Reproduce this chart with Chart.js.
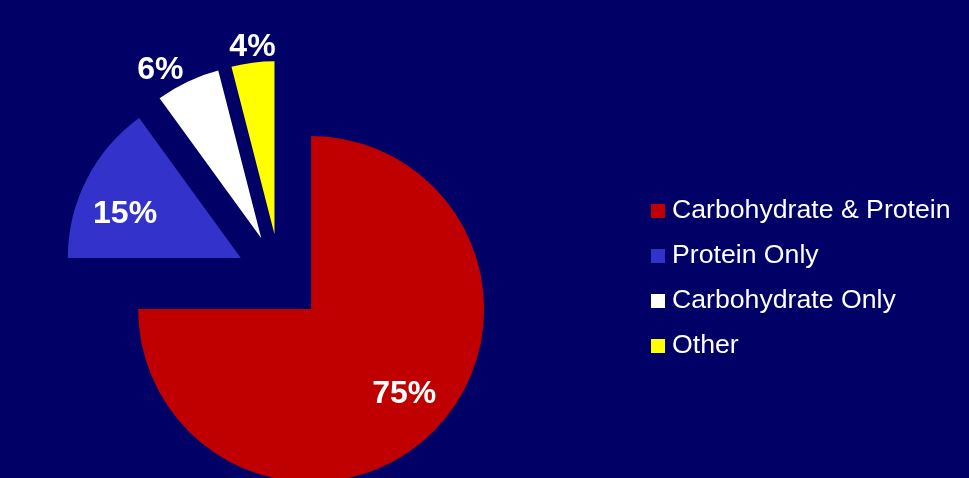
<!DOCTYPE html>
<html><head><meta charset="utf-8">
<script src="https://cdn.jsdelivr.net/npm/chart.js@4/dist/chart.umd.min.js"></script>
<style>html,body{margin:0;padding:0;background:#000066;overflow:hidden}
#wrap{position:relative;width:969px;height:478px;background:#000066;overflow:hidden}
#c{position:absolute;top:0;left:-100px}</style></head>
<body><div id="wrap"><canvas id="c" width="1069" height="478"></canvas></div>
<script>
const categories = ['Carbohydrate & Protein', 'Protein Only', 'Carbohydrate Only', 'Other'];
const values = [75, 15, 6, 4];
const valueLabels = ['75%', '15%', '6%', '4%'];
const colors = ['#C00000', '#3333CC', '#FFFFFF', '#FFFF00'];

// styling / layout (canvas extends 100px past the left edge of the page)
const shiftX = 100;
const explode = 44;
const pieRadius = 173;
const pieCenter = { x: 280 + shiftX, y: 278 };
const legendTextLeft = 672 + shiftX;
const legendFont = 26.67;
const labelFont = 32;
const labelRadius = [0.72, 0.72, 1.147, 1.106];
const labelAngleShift = [-3.4, -5.3, -5.4, 0.6];

function swatch(color) {
  const c = document.createElement('canvas');
  c.width = 14; c.height = 14;
  const g = c.getContext('2d');
  g.fillStyle = color; g.fillRect(0, 0, 14, 14);
  return c;
}
const swatches = colors.map(swatch);

// move every slice outward along its bisector (exploded pie)
const explodePlugin = {
  id: 'explode',
  afterDatasetUpdate(chart, args) {
    args.meta.data.forEach(arc => {
      const mid = (arc.startAngle + arc.endAngle) / 2;
      arc.x += Math.cos(mid) * explode;
      arc.y += Math.sin(mid) * explode;
    });
  }
};

const labelPlugin = {
  id: 'sliceLabels',
  afterDatasetsDraw(chart) {
    const meta = chart.getDatasetMeta(0);
    const ctx = chart.ctx;
    ctx.save();
    ctx.font = 'bold ' + labelFont + 'px "Liberation Sans", Arial, sans-serif';
    ctx.fillStyle = '#FFFFFF';
    ctx.textAlign = 'center';
    ctx.textBaseline = 'alphabetic';
    meta.data.forEach((arc, i) => {
      const mid = (arc.startAngle + arc.endAngle) / 2;
      const a = mid + labelAngleShift[i] * Math.PI / 180;
      const r = labelRadius[i] * arc.outerRadius;
      ctx.fillText(valueLabels[i], arc.x + Math.cos(a) * r, arc.y + Math.sin(a) * r + 0.358 * labelFont);
    });
    ctx.restore();
  }
};

const pad = { left: 0, right: 10, top: 2 * pieCenter.y - 478, bottom: 0 };

const chart = new Chart(document.getElementById('c'), {
  type: 'pie',
  data: {
    labels: categories,
    datasets: [{
      data: values,
      backgroundColor: colors,
      borderWidth: 0,
      hoverOffset: 0
    }]
  },
  options: {
    responsive: false,
    animation: false,
    events: [],
    radius: pieRadius,
    layout: { padding: Object.assign({}, pad) },
    plugins: {
      tooltip: { enabled: false },
      legend: {
        position: 'right',
        labels: {
          color: '#FFFFFF',
          font: { family: '"Liberation Sans", Arial, sans-serif', size: legendFont },
          usePointStyle: true,
          boxWidth: 1,
          padding: 45 - legendFont,
          generateLabels: () => categories.map((t, i) => ({
            text: t, fillStyle: colors[i], strokeStyle: colors[i], lineWidth: 0,
            pointStyle: swatches[i], hidden: false, index: i, fontColor: '#FFFFFF'
          }))
        }
      }
    }
  },
  plugins: [explodePlugin, labelPlugin]
});

// place legend text and pie centre
for (let k = 0; k < 3; k++) {
  const lg = chart.legend;
  const textLeft = lg.left + (45 - legendFont) + 1 + legendFont / 2;
  const dx = legendTextLeft - textLeft;
  pad.right = Math.max(0, pad.right - dx);
  const newRight = chart.chartArea.right + dx;
  pad.left = Math.max(0, 2 * pieCenter.x - newRight);
  chart.options.layout.padding = Object.assign({}, pad);
  chart.update();
}
</script></body></html>
